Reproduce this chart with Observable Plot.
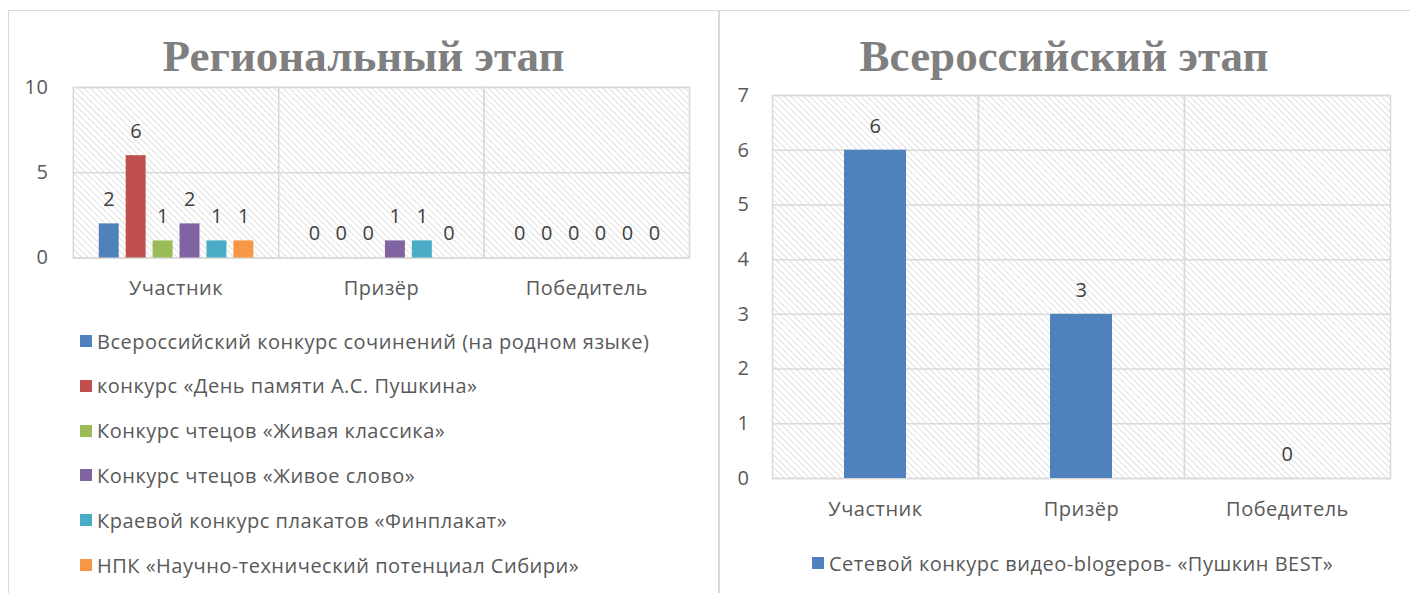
<!DOCTYPE html>
<html>
<head>
<meta charset="utf-8">
<script src="https://cdn.jsdelivr.net/npm/d3@7"></script>
<script src="https://cdn.jsdelivr.net/npm/@observablehq/plot@0.6"></script>
<style>
  html, body { margin: 0; padding: 0; background: #fff; }
  body { width: 1410px; height: 593px; position: relative; overflow: hidden; font-family: "Open Sans", sans-serif; color: #595959; }
  .panel { position: absolute; border: 1px solid #d9d9d9; box-sizing: border-box; background: #fff; }
  .title { position: absolute; left: 0; right: 0; text-align: center; font-family: "Liberation Serif", serif; font-weight: bold; color: #7f7f7f; font-size: 45px; line-height: 1; white-space: nowrap; }
  .chart { position: absolute; }
  .legend-item { position: absolute; display: flex; align-items: center; font-size: 20px; line-height: 27px; letter-spacing: 0.5px; white-space: nowrap; color: #595959; }
  .sw { width: 12px; height: 12px; margin-right: 5px; flex: none; }
</style>
</head>
<body>
<svg width="0" height="0" style="position:absolute">
  <defs>
    <pattern id="hatch" patternUnits="userSpaceOnUse" width="4.5" height="4.5" patternTransform="rotate(-45)">
      <rect width="4.5" height="4.5" fill="#ffffff"></rect>
      <line x1="0" y1="0" x2="0" y2="4.5" stroke="#d6d6d6" stroke-width="1.5"></line>
    </pattern>
  </defs>
</svg>
<div class="panel" id="leftPanel" style="left:8px; top:10px; width:711px; height:600px;">
  <div class="title" style="top:23px;">Региональный этап</div>
</div>
<div class="panel" id="rightPanel" style="left:719px; top:10px; width:700px; height:600px;">
  <div class="title" style="top:23px; right:10px;">Всероссийский этап</div>
</div>
<script>
// ---------- Data ----------
const categories = ["Участник", "Призёр", "Победитель"];
const regionalSeries = [
  "Всероссийский конкурс сочинений (на родном языке)",
  "конкурс «День памяти А.С. Пушкина»",
  "Конкурс чтецов «Живая классика»",
  "Конкурс чтецов «Живое слово»",
  "Краевой конкурс плакатов «Финплакат»",
  "НПК «Научно-технический потенциал Сибири»"
];
const regionalColors = ["#4f81bd", "#c0504d", "#9bbb59", "#8064a2", "#4bacc6", "#f79646"];
// values per series, in category order
const sochineniya = [2, 0, 0];
const pushkinDay = [6, 0, 0];
const zhivayaKlassika = [1, 0, 0];
const zhivoeSlovo = [2, 1, 0];
const finplakat = [1, 1, 0];
const npkSibir = [1, 0, 0];
const regionalValues = [sochineniya, pushkinDay, zhivayaKlassika, zhivoeSlovo, finplakat, npkSibir];
const regionalTicks = [0, 5, 10];

const allRussiaSeries = "Сетевой конкурс видео-blogеров- «Пушкин BEST»";
const allRussiaValues = [6, 3, 0];
const allRussiaTicks = [0, 1, 2, 3, 4, 5, 6, 7];
const allRussiaColor = "#4f81bd";

// ---------- Left chart ----------
const regionalData = [];
regionalSeries.forEach((s, i) => categories.forEach((c, j) => regionalData.push({series: s, category: c, value: regionalValues[i][j]})));

const axisStyle = {fontFamily: "Open Sans, sans-serif", fontSize: "20px", letterSpacing: "0.5px", color: "#595959", background: "transparent", overflow: "visible"};

const left = Plot.plot({
  width: 711, height: 240,
  marginLeft: 64, marginRight: 29, marginTop: 16, marginBottom: 53,
  style: axisStyle,
  fx: {domain: categories, padding: 0, axis: "bottom", tickSize: 0, tickPadding: 23, label: null},
  x: {domain: regionalSeries, axis: null, paddingInner: 0.26, paddingOuter: 0.9},
  y: {domain: [0, 10], ticks: regionalTicks, tickFormat: "d", tickSize: 0, tickPadding: 25, label: null},
  color: {domain: regionalSeries, range: regionalColors},
  marks: [
    Plot.frame({fill: "url(#hatch)", stroke: "#d9d9d9", strokeWidth: 1.5}),
    Plot.ruleY(regionalTicks, {stroke: "#d9d9d9", strokeWidth: 1.5}),
    Plot.barY(regionalData, {fx: "category", x: "series", y: "value", fill: "series"}),
    Plot.text(regionalData, {fx: "category", x: "series", y: "value", text: d => String(d.value), dy: -24, fill: "#404040", fontSize: 20})
  ]
});
left.classList.add("chart");
left.style.left = "0px"; left.style.top = "60px"; left.style.position = "absolute";
document.getElementById("leftPanel").appendChild(left);

const lp = document.getElementById("leftPanel");
regionalSeries.forEach((s, i) => {
  const item = document.createElement("div");
  item.className = "legend-item";
  item.style.left = "71px";
  item.style.top = (316.5 + i * 44.8) + "px";
  item.innerHTML = `<span class="sw" style="background:${regionalColors[i]}"></span><span></span>`;
  item.lastChild.textContent = s;
  lp.appendChild(item);
});

// ---------- Right chart ----------
const allRussiaData = categories.map((c, j) => ({category: c, series: allRussiaSeries, value: allRussiaValues[j]}));
const right = Plot.plot({
  width: 690, height: 460,
  marginLeft: 51, marginRight: 19, marginTop: 4, marginBottom: 73,
  style: axisStyle,
  fx: {domain: categories, padding: 0, axis: "bottom", tickSize: 0, tickPadding: 23, label: null},
  x: {domain: [allRussiaSeries], axis: null, paddingInner: 0, paddingOuter: 1.14},
  y: {domain: [0, 7], ticks: allRussiaTicks, tickFormat: "d", tickSize: 0, tickPadding: 23, label: null},
  marks: [
    Plot.frame({fill: "url(#hatch)", stroke: "#d9d9d9", strokeWidth: 1.5}),
    Plot.ruleY(allRussiaTicks, {stroke: "#d9d9d9", strokeWidth: 1.5}),
    Plot.barY(allRussiaData, {fx: "category", x: "series", y: "value", fill: allRussiaColor}),
    Plot.text(allRussiaData, {fx: "category", x: "series", y: "value", text: d => String(d.value), dy: -24, fill: "#404040", fontSize: 20})
  ]
});
right.style.position = "absolute"; right.style.left = "0px"; right.style.top = "80px";
const rp = document.getElementById("rightPanel");
rp.appendChild(right);
const ritem = document.createElement("div");
ritem.className = "legend-item";
ritem.style.left = "92px";
ritem.style.top = "538.5px";
ritem.innerHTML = `<span class="sw" style="background:${allRussiaColor}"></span><span></span>`;
ritem.lastChild.textContent = allRussiaSeries;
rp.appendChild(ritem);
</script>
</body>
</html>
